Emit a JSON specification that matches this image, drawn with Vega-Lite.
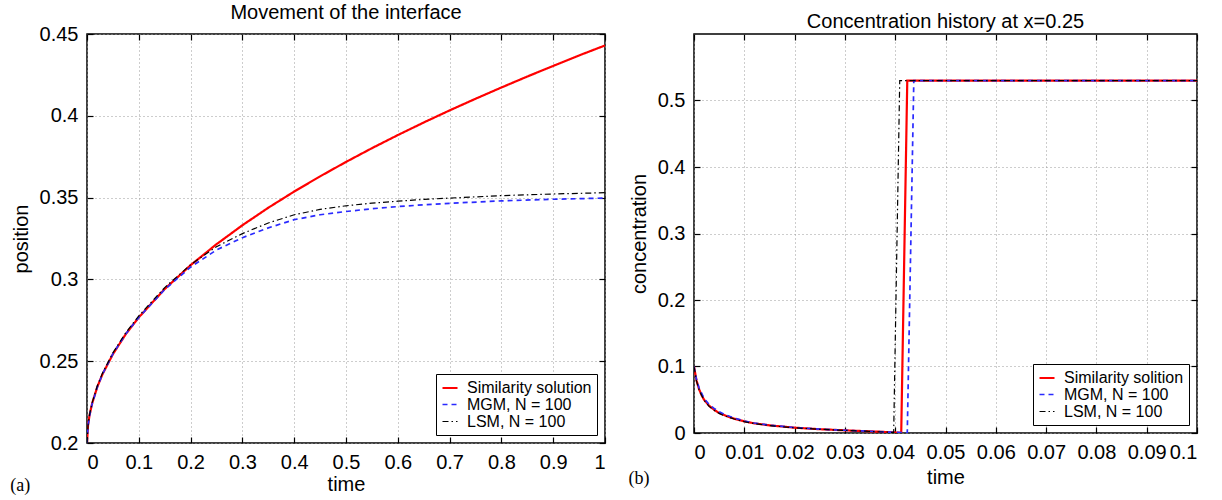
{
  "$schema": "https://vega.github.io/schema/vega-lite/v6.json",
  "background": "white",
  "padding": {"left": 10, "top": 2, "right": 5, "bottom": 4},
  "spacing": 19,
  "config": {
    "font": "Liberation Sans",
    "view": {"stroke": "black", "strokeWidth": 1.5},
    "axis": {
      "domain": false,
      "grid": true,
      "gridColor": "#9a9a9a",
      "gridDash": [1, 3],
      "gridWidth": 1,
      "tickColor": "black",
      "tickSize": -6,
      "tickWidth": 1.2,
      "labelFontSize": 20,
      "labelColor": "black",
      "labelPadding": 15,
      "titleFontSize": 20,
      "titleFontWeight": "normal",
      "titleColor": "black"
    },
    "axisX": {"titlePadding": 2},
    "axisY": {"titlePadding": 8},
    "title": {"fontSize": 20, "fontWeight": "normal", "color": "black"},
    "legend": {
      "orient": "bottom-right",
      "offset": 8,
      "symbolType": "stroke",
      "symbolSize": 225,
      "labelFontSize": 16,
      "labelColor": "black",
      "labelLimit": 300,
      "labelOffset": 8,
      "rowPadding": -5,
      "padding": 5,
      "strokeColor": "black",
      "fillColor": "white",
      "cornerRadius": 0
    }
  },
  "resolve": {
    "scale": {"color": "independent", "strokeDash": "independent", "strokeWidth": "independent"},
    "legend": {"color": "independent", "strokeDash": "independent", "strokeWidth": "independent"}
  },
  "hconcat": [
    {
      "title": {"text": "(a)", "orient": "bottom", "anchor": "start", "frame": "bounds", "font": "Liberation Serif", "fontSize": 18, "offset": -18},
      "resolve": {
        "scale": {"color": "independent", "strokeDash": "independent", "strokeWidth": "independent"},
        "legend": {"color": "independent", "strokeDash": "independent", "strokeWidth": "independent"}
      },
      "vconcat": [
        {
          "title": {"text": "Movement of the interface", "offset": 1},
          "width": 518,
          "height": 409,
          "data": {
            "values": [
              {"series": "Similarity solution", "time": 0, "position": 0.2},
              {"series": "Similarity solution", "time": 0.002, "position": 0.2109},
              {"series": "Similarity solution", "time": 0.005, "position": 0.2172},
              {"series": "Similarity solution", "time": 0.01, "position": 0.2243},
              {"series": "Similarity solution", "time": 0.02, "position": 0.2344},
              {"series": "Similarity solution", "time": 0.03, "position": 0.2421},
              {"series": "Similarity solution", "time": 0.05, "position": 0.2543},
              {"series": "Similarity solution", "time": 0.075, "position": 0.2666},
              {"series": "Similarity solution", "time": 0.1, "position": 0.2768},
              {"series": "Similarity solution", "time": 0.15, "position": 0.2941},
              {"series": "Similarity solution", "time": 0.2, "position": 0.3087},
              {"series": "Similarity solution", "time": 0.25, "position": 0.3215},
              {"series": "Similarity solution", "time": 0.3, "position": 0.3331},
              {"series": "Similarity solution", "time": 0.35, "position": 0.3438},
              {"series": "Similarity solution", "time": 0.4, "position": 0.3537},
              {"series": "Similarity solution", "time": 0.45, "position": 0.3630},
              {"series": "Similarity solution", "time": 0.5, "position": 0.3718},
              {"series": "Similarity solution", "time": 0.55, "position": 0.3802},
              {"series": "Similarity solution", "time": 0.6, "position": 0.3882},
              {"series": "Similarity solution", "time": 0.65, "position": 0.3959},
              {"series": "Similarity solution", "time": 0.7, "position": 0.4033},
              {"series": "Similarity solution", "time": 0.75, "position": 0.4104},
              {"series": "Similarity solution", "time": 0.8, "position": 0.4173},
              {"series": "Similarity solution", "time": 0.85, "position": 0.4240},
              {"series": "Similarity solution", "time": 0.9, "position": 0.4305},
              {"series": "Similarity solution", "time": 0.95, "position": 0.4369},
              {"series": "Similarity solution", "time": 1.0, "position": 0.4430},
              {"series": "MGM, N =  100", "time": 0, "position": 0.2},
              {"series": "MGM, N =  100", "time": 0.002, "position": 0.2105},
              {"series": "MGM, N =  100", "time": 0.005, "position": 0.2168},
              {"series": "MGM, N =  100", "time": 0.01, "position": 0.2240},
              {"series": "MGM, N =  100", "time": 0.02, "position": 0.2343},
              {"series": "MGM, N =  100", "time": 0.03, "position": 0.2422},
              {"series": "MGM, N =  100", "time": 0.05, "position": 0.2545},
              {"series": "MGM, N =  100", "time": 0.075, "position": 0.2668},
              {"series": "MGM, N =  100", "time": 0.1, "position": 0.2768},
              {"series": "MGM, N =  100", "time": 0.15, "position": 0.2938},
              {"series": "MGM, N =  100", "time": 0.2, "position": 0.3075},
              {"series": "MGM, N =  100", "time": 0.25, "position": 0.3180},
              {"series": "MGM, N =  100", "time": 0.3, "position": 0.3255},
              {"series": "MGM, N =  100", "time": 0.35, "position": 0.3315},
              {"series": "MGM, N =  100", "time": 0.4, "position": 0.3365},
              {"series": "MGM, N =  100", "time": 0.45, "position": 0.3395},
              {"series": "MGM, N =  100", "time": 0.5, "position": 0.3415},
              {"series": "MGM, N =  100", "time": 0.55, "position": 0.3432},
              {"series": "MGM, N =  100", "time": 0.6, "position": 0.3445},
              {"series": "MGM, N =  100", "time": 0.65, "position": 0.3456},
              {"series": "MGM, N =  100", "time": 0.7, "position": 0.3465},
              {"series": "MGM, N =  100", "time": 0.8, "position": 0.3480},
              {"series": "MGM, N =  100", "time": 0.9, "position": 0.3490},
              {"series": "MGM, N =  100", "time": 1.0, "position": 0.3497},
              {"series": "LSM, N = 100", "time": 0, "position": 0.2},
              {"series": "LSM, N = 100", "time": 0.002, "position": 0.2110},
              {"series": "LSM, N = 100", "time": 0.005, "position": 0.2175},
              {"series": "LSM, N = 100", "time": 0.01, "position": 0.2247},
              {"series": "LSM, N = 100", "time": 0.02, "position": 0.2350},
              {"series": "LSM, N = 100", "time": 0.03, "position": 0.2428},
              {"series": "LSM, N = 100", "time": 0.05, "position": 0.2551},
              {"series": "LSM, N = 100", "time": 0.075, "position": 0.2675},
              {"series": "LSM, N = 100", "time": 0.1, "position": 0.2777},
              {"series": "LSM, N = 100", "time": 0.15, "position": 0.2950},
              {"series": "LSM, N = 100", "time": 0.2, "position": 0.3090},
              {"series": "LSM, N = 100", "time": 0.25, "position": 0.3200},
              {"series": "LSM, N = 100", "time": 0.3, "position": 0.3280},
              {"series": "LSM, N = 100", "time": 0.35, "position": 0.3345},
              {"series": "LSM, N = 100", "time": 0.4, "position": 0.3395},
              {"series": "LSM, N = 100", "time": 0.45, "position": 0.3428},
              {"series": "LSM, N = 100", "time": 0.5, "position": 0.3450},
              {"series": "LSM, N = 100", "time": 0.55, "position": 0.3466},
              {"series": "LSM, N = 100", "time": 0.6, "position": 0.3478},
              {"series": "LSM, N = 100", "time": 0.65, "position": 0.3489},
              {"series": "LSM, N = 100", "time": 0.7, "position": 0.3497},
              {"series": "LSM, N = 100", "time": 0.8, "position": 0.3512},
              {"series": "LSM, N = 100", "time": 0.9, "position": 0.3522},
              {"series": "LSM, N = 100", "time": 1.0, "position": 0.3530}
            ]
          },
          "resolve": {"axis": {"x": "independent", "y": "independent"}},
          "layer": [
            {
              "mark": {"type": "line", "clip": true},
              "encoding": {
                "x": {
                  "field": "time", "type": "quantitative",
                  "scale": {"domain": [0, 1], "nice": false},
                  "axis": {"title": "time", "values": [0, 0.1, 0.2, 0.3, 0.4, 0.5, 0.6, 0.7, 0.8, 0.9, 1], "format": "~g"}
                },
                "y": {
                  "field": "position", "type": "quantitative",
                  "scale": {"domain": [0.2, 0.45], "nice": false, "zero": false},
                  "axis": {"title": "position", "values": [0.2, 0.25, 0.3, 0.35, 0.4, 0.45], "format": "~g"}
                },
                "color": {
                  "field": "series", "type": "nominal", "title": null,
                  "scale": {"domain": ["Similarity solution", "MGM, N =  100", "LSM, N = 100"], "range": ["#ff0000", "#2a2aff", "#000000"]}
                },
                "strokeDash": {
                  "field": "series", "type": "nominal", "title": null,
                  "scale": {"domain": ["Similarity solution", "MGM, N =  100", "LSM, N = 100"], "range": [[1, 0], [5, 4], [6, 3, 1.5, 3]]}
                },
                "strokeWidth": {
                  "field": "series", "type": "nominal", "title": null,
                  "scale": {"domain": ["Similarity solution", "MGM, N =  100", "LSM, N = 100"], "range": [2.2, 1.2, 1.2]}
                }
              }
            },
            {
              "mark": {"type": "point", "opacity": 0},
              "encoding": {
                "x": {"field": "time", "type": "quantitative", "axis": {"orient": "top", "title": null, "labels": false, "grid": false, "values": [0, 0.1, 0.2, 0.3, 0.4, 0.5, 0.6, 0.7, 0.8, 0.9, 1]}},
                "y": {"field": "position", "type": "quantitative", "axis": {"orient": "right", "title": null, "labels": false, "grid": false, "values": [0.2, 0.25, 0.3, 0.35, 0.4, 0.45]}}
              }
            }
          ]
        }
      ]
    },
    {
      "title": {"text": "(b)", "orient": "bottom", "anchor": "start", "frame": "bounds", "font": "Liberation Serif", "fontSize": 18, "offset": -18},
      "resolve": {
        "scale": {"color": "independent", "strokeDash": "independent", "strokeWidth": "independent"},
        "legend": {"color": "independent", "strokeDash": "independent", "strokeWidth": "independent"}
      },
      "vconcat": [
        {
          "title": {"text": "Concentration history at x=0.25", "offset": 1},
          "width": 503,
          "height": 399,
          "data": {
            "values": [
              {"series": "Similarity solition", "time": 0, "concentration": 0.1},
              {"series": "Similarity solition", "time": 0.0005, "concentration": 0.079},
              {"series": "Similarity solition", "time": 0.001, "concentration": 0.066},
              {"series": "Similarity solition", "time": 0.0015, "concentration": 0.057},
              {"series": "Similarity solition", "time": 0.002, "concentration": 0.050},
              {"series": "Similarity solition", "time": 0.003, "concentration": 0.041},
              {"series": "Similarity solition", "time": 0.004, "concentration": 0.035},
              {"series": "Similarity solition", "time": 0.005, "concentration": 0.030},
              {"series": "Similarity solition", "time": 0.006, "concentration": 0.027},
              {"series": "Similarity solition", "time": 0.007, "concentration": 0.024},
              {"series": "Similarity solition", "time": 0.008, "concentration": 0.0215},
              {"series": "Similarity solition", "time": 0.01, "concentration": 0.0175},
              {"series": "Similarity solition", "time": 0.012, "concentration": 0.0145},
              {"series": "Similarity solition", "time": 0.015, "concentration": 0.0115},
              {"series": "Similarity solition", "time": 0.02, "concentration": 0.008},
              {"series": "Similarity solition", "time": 0.025, "concentration": 0.0057},
              {"series": "Similarity solition", "time": 0.03, "concentration": 0.004},
              {"series": "Similarity solition", "time": 0.035, "concentration": 0.0025},
              {"series": "Similarity solition", "time": 0.039, "concentration": 0.0012},
              {"series": "Similarity solition", "time": 0.0412, "concentration": 0.0003},
              {"series": "Similarity solition", "time": 0.0424, "concentration": 0.53},
              {"series": "Similarity solition", "time": 0.1, "concentration": 0.53},
              {"series": "MGM, N = 100", "time": 0, "concentration": 0.1},
              {"series": "MGM, N = 100", "time": 0.0005, "concentration": 0.08},
              {"series": "MGM, N = 100", "time": 0.001, "concentration": 0.068},
              {"series": "MGM, N = 100", "time": 0.002, "concentration": 0.052},
              {"series": "MGM, N = 100", "time": 0.003, "concentration": 0.043},
              {"series": "MGM, N = 100", "time": 0.004, "concentration": 0.037},
              {"series": "MGM, N = 100", "time": 0.005, "concentration": 0.032},
              {"series": "MGM, N = 100", "time": 0.006, "concentration": 0.028},
              {"series": "MGM, N = 100", "time": 0.008, "concentration": 0.0225},
              {"series": "MGM, N = 100", "time": 0.01, "concentration": 0.018},
              {"series": "MGM, N = 100", "time": 0.012, "concentration": 0.015},
              {"series": "MGM, N = 100", "time": 0.015, "concentration": 0.0118},
              {"series": "MGM, N = 100", "time": 0.02, "concentration": 0.0082},
              {"series": "MGM, N = 100", "time": 0.025, "concentration": 0.0058},
              {"series": "MGM, N = 100", "time": 0.03, "concentration": 0.0041},
              {"series": "MGM, N = 100", "time": 0.035, "concentration": 0.0026},
              {"series": "MGM, N = 100", "time": 0.039, "concentration": 0.0013},
              {"series": "MGM, N = 100", "time": 0.0424, "concentration": 0.0002},
              {"series": "MGM, N = 100", "time": 0.0437, "concentration": 0.53},
              {"series": "MGM, N = 100", "time": 0.1, "concentration": 0.53},
              {"series": "LSM, N = 100", "time": 0, "concentration": 0.1},
              {"series": "LSM, N = 100", "time": 0.0005, "concentration": 0.078},
              {"series": "LSM, N = 100", "time": 0.001, "concentration": 0.065},
              {"series": "LSM, N = 100", "time": 0.002, "concentration": 0.049},
              {"series": "LSM, N = 100", "time": 0.003, "concentration": 0.040},
              {"series": "LSM, N = 100", "time": 0.004, "concentration": 0.034},
              {"series": "LSM, N = 100", "time": 0.005, "concentration": 0.0295},
              {"series": "LSM, N = 100", "time": 0.006, "concentration": 0.026},
              {"series": "LSM, N = 100", "time": 0.008, "concentration": 0.021},
              {"series": "LSM, N = 100", "time": 0.01, "concentration": 0.017},
              {"series": "LSM, N = 100", "time": 0.012, "concentration": 0.0142},
              {"series": "LSM, N = 100", "time": 0.015, "concentration": 0.0112},
              {"series": "LSM, N = 100", "time": 0.02, "concentration": 0.0078},
              {"series": "LSM, N = 100", "time": 0.025, "concentration": 0.0056},
              {"series": "LSM, N = 100", "time": 0.03, "concentration": 0.0039},
              {"series": "LSM, N = 100", "time": 0.035, "concentration": 0.0024},
              {"series": "LSM, N = 100", "time": 0.0397, "concentration": 0.0008},
              {"series": "LSM, N = 100", "time": 0.0409, "concentration": 0.53},
              {"series": "LSM, N = 100", "time": 0.1, "concentration": 0.53}
            ]
          },
          "resolve": {"axis": {"x": "independent", "y": "independent"}},
          "layer": [
            {
              "mark": {"type": "line", "clip": true},
              "encoding": {
                "x": {
                  "field": "time", "type": "quantitative",
                  "scale": {"domain": [0, 0.1], "nice": false},
                  "axis": {"title": "time", "titlePadding": 5, "values": [0, 0.01, 0.02, 0.03, 0.04, 0.05, 0.06, 0.07, 0.08, 0.09, 0.1], "format": "~g"}
                },
                "y": {
                  "field": "concentration", "type": "quantitative",
                  "scale": {"domain": [0, 0.6], "nice": false},
                  "axis": {"title": "concentration", "values": [0, 0.1, 0.2, 0.3, 0.4, 0.5], "format": "~g"}
                },
                "color": {
                  "field": "series", "type": "nominal", "title": null,
                  "scale": {"domain": ["Similarity solition", "MGM, N = 100", "LSM, N = 100"], "range": ["#ff0000", "#2a2aff", "#000000"]}
                },
                "strokeDash": {
                  "field": "series", "type": "nominal", "title": null,
                  "scale": {"domain": ["Similarity solition", "MGM, N = 100", "LSM, N = 100"], "range": [[1, 0], [5, 4], [6, 3, 1.5, 3]]}
                },
                "strokeWidth": {
                  "field": "series", "type": "nominal", "title": null,
                  "scale": {"domain": ["Similarity solition", "MGM, N = 100", "LSM, N = 100"], "range": [2.2, 1.2, 1.2]}
                }
              }
            },
            {
              "mark": {"type": "point", "opacity": 0},
              "encoding": {
                "x": {"field": "time", "type": "quantitative", "axis": {"orient": "top", "title": null, "labels": false, "grid": false, "values": [0, 0.01, 0.02, 0.03, 0.04, 0.05, 0.06, 0.07, 0.08, 0.09, 0.1]}},
                "y": {"field": "concentration", "type": "quantitative", "axis": {"orient": "right", "title": null, "labels": false, "grid": false, "values": [0, 0.1, 0.2, 0.3, 0.4, 0.5]}}
              }
            }
          ]
        }
      ]
    }
  ]
}
